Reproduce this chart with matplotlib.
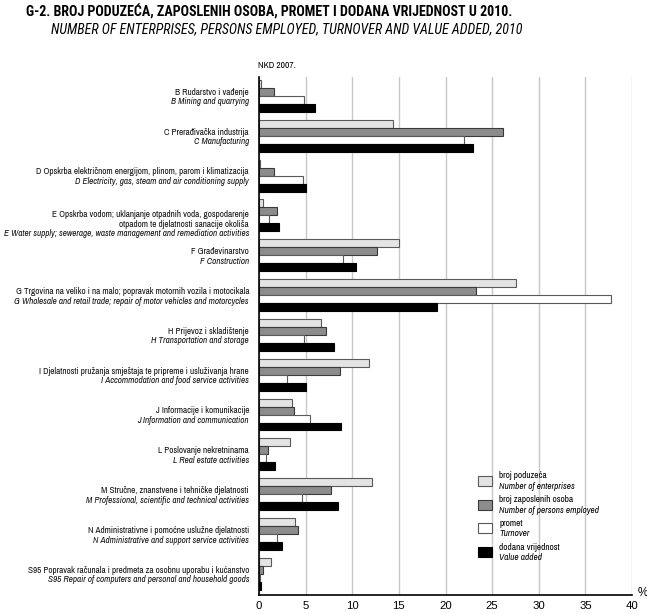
import numpy as np
import matplotlib
matplotlib.use('Agg')
import matplotlib.pyplot as plt
from matplotlib.patches import Rectangle

plt.rcParams['font.family'] = ['Archivo Narrow', 'Liberation Sans', 'DejaVu Sans']

# categories (Croatian / English)
labels_hr = [
    'B Rudarstvo i vađenje',
    'C Prerađivačka industrija',
    'D Opskrba električnom energijom, plinom, parom i klimatizacija',
    'E Opskrba vodom; uklanjanje otpadnih voda, gospodarenje\notpadom te djelatnosti sanacije okoliša',
    'F Građevinarstvo',
    'G Trgovina na veliko i na malo; popravak motornih vozila i motocikala',
    'H Prijevoz i skladištenje',
    'I Djelatnosti pružanja smještaja te pripreme i usluživanja hrane',
    'J Informacije i komunikacije',
    'L Poslovanje nekretninama',
    'M Stručne, znanstvene i tehničke djelatnosti',
    'N Administrativne i pomoćne uslužne djelatnosti',
    'S95 Popravak računala i predmeta za osobnu uporabu i kućanstvo',
]
labels_en = [
    'B Mining and quarrying',
    'C Manufacturing',
    'D Electricity, gas, steam and air conditioning supply',
    'E Water supply; sewerage, waste management and remediation activities',
    'F Construction',
    'G Wholesale and retail trade; repair of motor vehicles and motorcycles',
    'H Transportation and storage',
    'I Accommodation and food service activities',
    'J Information and communication',
    'L Real estate activities',
    'M Professional, scientific and technical activities',
    'N Administrative and support service activities',
    'S95 Repair of computers and personal and household goods',
]

# shares in %
enterprises = [0.2, 14.4, 0.1, 0.4, 15.0, 27.6, 6.6, 11.8, 3.5, 3.3, 12.1, 3.9, 1.3]
employed    = [1.6, 26.2, 1.6, 1.9, 12.7, 23.3, 7.2, 8.7, 3.7, 1.0, 7.7, 4.2, 0.4]
turnover    = [4.8, 22.0, 4.7, 1.1, 9.0, 37.7, 4.8, 3.0, 5.5, 0.8, 4.6, 1.9, 0.1]
value_added = [6.0, 23.0, 5.0, 2.1, 10.4, 19.1, 8.0, 5.0, 8.8, 1.7, 8.5, 2.5, 0.25]

series_hr = ['broj poduzeća', 'broj zaposlenih osoba', 'promet', 'dodana vrijednost']
series_en = ['Number of enterprises', 'Number of persons employed', 'Turnover', 'Value added']
fills = ['#e4e4e4', '#8c8c8c', '#ffffff', '#000000']
edges = ['#5a5a5a', '#3a3a3a', '#5a5a5a', '#000000']

W, H = 647, 614
fig = plt.figure(figsize=(W / 100, H / 100), dpi=100)
ax = fig.add_axes([259 / W, 1 - 595 / H, 373 / W, 518 / H])

y = np.arange(len(labels_hr))
bh = 0.2
data = [enterprises, employed, turnover, value_added]
for k, vals in enumerate(data):
    ax.barh(y - 0.3 + k * bh, vals, height=bh, color=fills[k],
            edgecolor=edges[k], linewidth=0.8, zorder=3)

ax.set_xlim(0, 40)
ax.set_ylim(12.53, -0.475)
ax.set_xticks(range(0, 41, 5))
ax.set_yticks([])
ax.tick_params(axis='x', length=0, labelsize=8.2, pad=4)
for lab in ax.get_xticklabels():
    lab.set_family(['Liberation Sans', 'DejaVu Sans'])
ax.grid(axis='x', color='#c8c8c8', linewidth=1, zorder=0)
for s in ['top', 'right']:
    ax.spines[s].set_visible(False)
ax.spines['left'].set_linewidth(1.2)
ax.spines['bottom'].set_linewidth(1.2)
ax.spines['left'].set_zorder(5)

# category labels
lx = -10 / 373
trans = ax.get_yaxis_transform()
for i in range(len(labels_hr)):
    hr_lines = labels_hr[i].split('\n')
    lines = [(t, 'normal') for t in hr_lines] + [(labels_en[i], 'italic')]
    n = len(lines)
    step = 0.245
    start = i + 0.03 - step * (n - 1) / 2
    if n == 3:
        start += 0.19
    for j, (t, st) in enumerate(lines):
        ax.text(lx, start + j * step, t, transform=trans, ha='right', va='center',
                fontsize=6.6, style=st, color='#111111')

# titles
title_font = ['Roboto Condensed', 'Fira Sans Condensed', 'Archivo Narrow', 'DejaVu Sans']
fig.text(26 / W, 1 - 12 / H, 'G-2. BROJ PODUZEĆA, ZAPOSLENIH OSOBA, PROMET I DODANA VRIJEDNOST U 2010.',
         fontsize=10.1, fontweight='bold', va='center', ha='left', family=title_font)
fig.text(51 / W, 1 - 29 / H, 'NUMBER OF ENTERPRISES, PERSONS EMPLOYED, TURNOVER AND VALUE ADDED, 2010',
         fontsize=10.1, style='italic', va='center', ha='left', family=title_font)
fig.text(258 / W, 1 - 66 / H, 'NKD 2007.', fontsize=6.8, va='center', ha='left')
fig.text(643 / W, 1 - 593 / H, '%', fontsize=8.5, va='center', ha='center',
         family=['Liberation Sans', 'DejaVu Sans'])

# legend
for k in range(4):
    cy = 481 + k * 23.7
    fig.add_artist(Rectangle(((485 - 7) / W, 1 - (cy + 5) / H), 14 / W, 10 / H,
                             transform=fig.transFigure, facecolor=fills[k],
                             edgecolor=edges[k], linewidth=0.8))
    fig.text(499 / W, 1 - (cy - 5) / H, series_hr[k], fontsize=6.7, va='center', ha='left')
    fig.text(499 / W, 1 - (cy + 5.5) / H, series_en[k], fontsize=6.7, style='italic',
             va='center', ha='left')

fig.savefig('out.png', dpi=100)
